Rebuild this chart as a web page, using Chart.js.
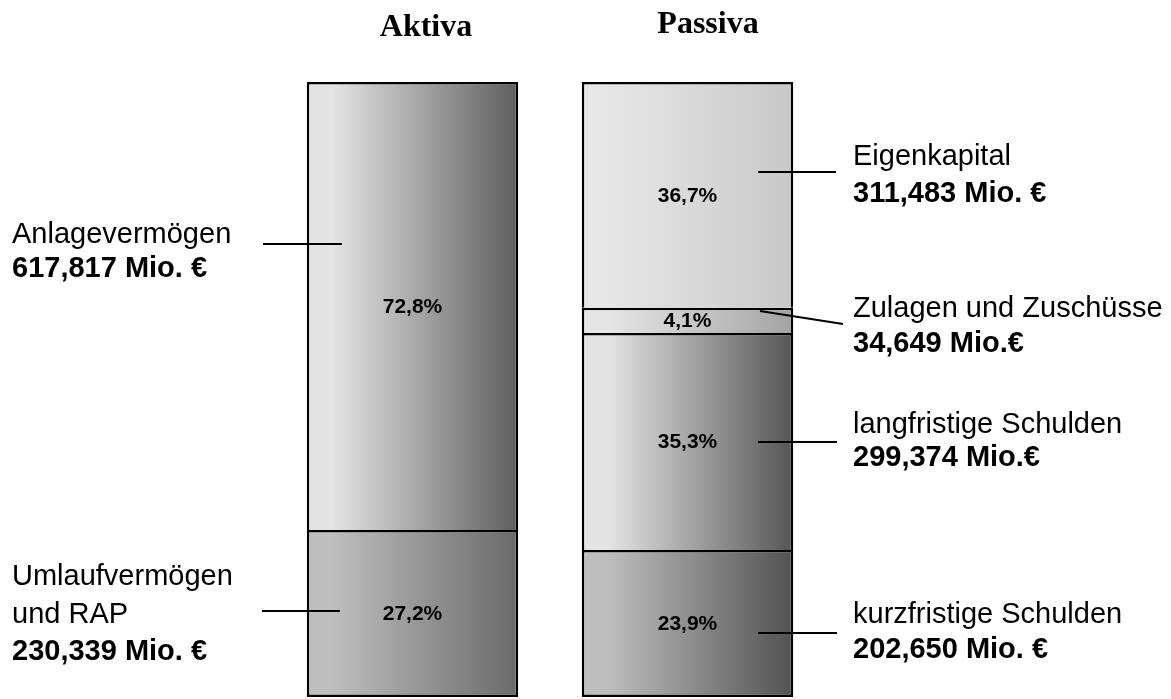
<!DOCTYPE html>
<html lang="de">
<head>
<meta charset="utf-8">
<title>Bilanzstruktur</title>
<script src="https://cdn.jsdelivr.net/npm/chart.js@4.4.1/dist/chart.umd.min.js"></script>
<style>
    html, body { margin: 0; padding: 0; background: #fff; }
    #wrap { width: 1171px; height: 699px; position: relative; }
</style>
</head>
<body>
<div id="wrap"><canvas id="balanceChart"></canvas></div>
<script>
// Bilanzseiten und Positionen (von unten nach oben gestapelt)
const categories = ["Aktiva", "Passiva"];
const segmentSide = [0, 0, 1, 1, 1, 1];
const segmentNames = [
    ["Umlaufvermögen", "und RAP"],
    ["Anlagevermögen"],
    ["kurzfristige Schulden"],
    ["langfristige Schulden"],
    ["Zulagen und Zuschüsse"],
    ["Eigenkapital"],
];
const segmentValues = [230.339, 617.817, 202.650, 299.374, 34.649, 311.483]; // Mio. €
const valueSuffix = [" Mio. €", " Mio. €", " Mio. €", " Mio.€", " Mio.€", " Mio. €"];

// Farbverlauf je Segment: links hell -> rechts dunkel
const gradientLight = ["#bebebe", "#e4e4e4", "#bebebe", "#e4e4e4", "#e6e6e6", "#e7e7e7"];
const gradientDark = ["#6a6a6a", "#5e5e5e", "#525252", "#565656", "#a3a3a3", "#c8c8c8"];

const BAR_PCT = 0.7687;
const sideTotals = categories.map((_, s) =>
    segmentValues.reduce((sum, v, i) => (segmentSide[i] === s ? sum + v : sum), 0)
);

function formatDe(value, digits) {
    return value.toFixed(digits).replace(".", ",");
}

// Beschriftungen neben den Balken
const calloutLayout = [
    { line: [262, 611, 340, 611], x: 12, baselines: [585, 623, 660] },
    { line: [263, 244, 342, 244], x: 12, baselines: [243, 277] },
    { line: [758, 633, 837, 633], x: 853, baselines: [623, 658] },
    { line: [758, 442, 837, 442], x: 853, baselines: [433, 466] },
    { line: [760, 311, 843, 324], x: 853, baselines: [317, 352] },
    { line: [758, 172, 836, 172], x: 853, baselines: [165, 202] },
];
const titleLayout = [
    { x: 426, y: 36 },
    { x: 708, y: 33 },
];

function segmentFill(ctx) {
    const chart = ctx.chart;
    const i = ctx.datasetIndex;
    if (!chart.chartArea) return gradientLight[i];
    const xs = chart.scales.x;
    const side = segmentSide[i];
    const cx = xs.getPixelForValue(side);
    const half = (xs.getPixelForValue(1) - xs.getPixelForValue(0)) * BAR_PCT / 2;
    const g = chart.ctx.createLinearGradient(cx - half, 0, cx + half, 0);
    g.addColorStop(0, gradientLight[i]);
    g.addColorStop(0.12, gradientLight[i]);
    g.addColorStop(1, gradientDark[i]);
    return g;
}

const annotationPlugin = {
    id: "bilanzLabels",
    afterDatasetsDraw(chart) {
        const c = chart.ctx;
        c.save();
        c.fillStyle = "#000";
        c.strokeStyle = "#000";

        // Prozentwerte in den Segmenten
        c.font = "bold 21px 'Liberation Sans', Arial, sans-serif";
        c.textAlign = "center";
        c.textBaseline = "middle";
        segmentValues.forEach((v, i) => {
            const el = chart.getDatasetMeta(i).data[segmentSide[i]];
            if (!el) return;
            const pct = v / sideTotals[segmentSide[i]] * 100;
            c.fillText(`${formatDe(pct, 1)}%`, el.x, (el.y + el.base) / 2 + 1);
        });

        // Hinweislinien und Texte
        c.lineWidth = 2;
        c.textAlign = "left";
        c.textBaseline = "alphabetic";
        calloutLayout.forEach((lay, i) => {
            c.beginPath();
            c.moveTo(lay.line[0], lay.line[1]);
            c.lineTo(lay.line[2], lay.line[3]);
            c.stroke();
            const names = segmentNames[i];
            c.font = "29px 'Liberation Sans', Arial, sans-serif";
            names.forEach((n, k) => c.fillText(n, lay.x, lay.baselines[k]));
            c.font = "bold 29px 'Liberation Sans', Arial, sans-serif";
            c.fillText(formatDe(segmentValues[i], 3) + valueSuffix[i], lay.x, lay.baselines[names.length]);
        });

        // Überschriften
        c.font = "bold 32px 'Liberation Serif', 'Times New Roman', serif";
        c.textAlign = "center";
        categories.forEach((cat, s) => c.fillText(cat, titleLayout[s].x, titleLayout[s].y));
        c.restore();
    },
};

const datasets = segmentValues.map((v, i) => {
    const isBottom = segmentSide.indexOf(segmentSide[i]) === i;
    return {
        label: segmentNames[i].join(" "),
        data: categories.map((_, s) => (s === segmentSide[i] ? v : null)),
        stack: "bilanz",
        backgroundColor: segmentFill,
        borderColor: "#000",
        borderWidth: 2.5,
        borderSkipped: isBottom ? false : "start",
        inflateAmount: 0,
        categoryPercentage: 1,
        barPercentage: BAR_PCT,
    };
});

new Chart(document.getElementById("balanceChart"), {
    type: "bar",
    data: { labels: categories, datasets },
    options: {
        responsive: true,
        maintainAspectRatio: false,
        animation: false,
        layout: { padding: { left: 275, right: 346, top: 82, bottom: 2 } },
        scales: {
            x: { stacked: true, display: false },
            y: { stacked: true, display: false, min: 0, max: sideTotals[0] },
        },
        plugins: { legend: { display: false }, tooltip: { enabled: false } },
    },
    plugins: [annotationPlugin],
});
</script>
</body>
</html>
